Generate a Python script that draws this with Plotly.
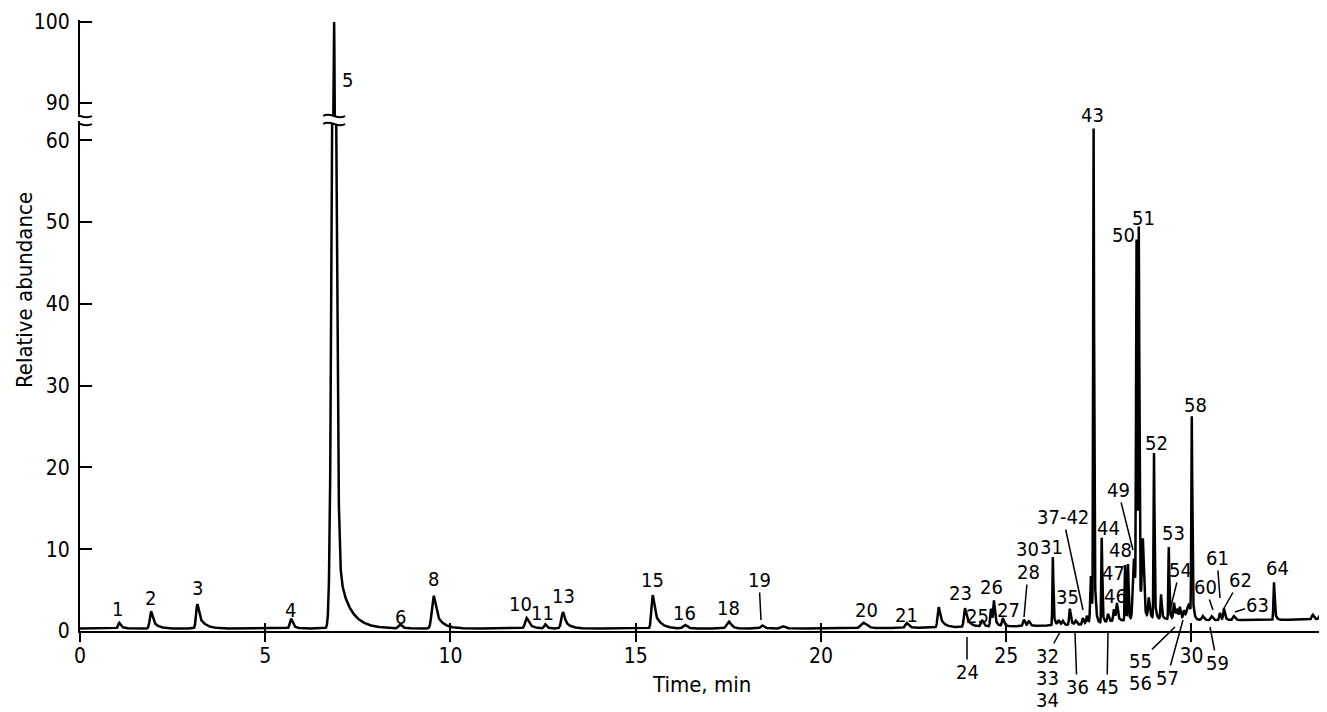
import numpy as np
import plotly.graph_objects as go

# ---------------- data ----------------
# retention time (min), height above baseline (relative abundance),
# peak width (sigma, min), tailing constant (min), tailing fraction
peak_time = [1.06, 1.92, 3.17, 5.70, 6.86, 6.87, 8.64, 9.55, 12.06, 12.56,
             13.04, 15.46, 16.33, 17.52, 18.41, 18.97, 21.16, 22.32, 23.18, 23.89,
             24.35, 24.59, 24.67, 24.91, 25.48, 25.61, 26.26, 26.42, 26.53, 26.72,
             26.88, 27.07, 27.18, 27.29, 27.36, 27.58, 27.75, 27.91, 27.99, 28.21,
             28.29, 28.45, 28.52, 28.58, 28.69, 28.85, 28.99, 29.18, 29.39, 29.53,
             29.61, 29.69, 29.80, 29.93, 30.01, 30.31, 30.55, 30.77, 30.88, 31.15,
             32.23, 33.28, 33.47]
peak_height = [0.7, 2.1, 3.0, 1.2, 90.0, 10.0, 0.5, 4.0, 1.3, 0.5,
               2.0, 4.1, 0.45, 0.85, 0.4, 0.3, 0.7, 0.6, 2.5, 2.3,
               0.8, 2.2, 2.9, 1.0, 0.8, 0.6, 8.4, 0.6, 0.5, 2.0,
               0.5, 0.8, 1.0, 5.8, 60.3, 10.4, 1.0, 1.5, 2.1, 6.8,
               6.8, 7.5, 45.5, 46.0, 9.5, 2.5, 20.3, 3.0, 8.8, 2.0,
               1.1, 1.4, 1.0, 1.8, 24.3, 0.5, 0.5, 0.9, 1.4, 0.5,
               4.6, 0.6, 0.5]
peak_sigma = [0.03, 0.035, 0.035, 0.035, 0.06, 0.04, 0.04, 0.05, 0.045, 0.03,
              0.045, 0.035, 0.05, 0.06, 0.04, 0.05, 0.08, 0.04, 0.03, 0.03,
              0.03, 0.02, 0.02, 0.025, 0.025, 0.025, 0.012, 0.025, 0.025, 0.02,
              0.025, 0.02, 0.02, 0.02, 0.012, 0.012, 0.02, 0.02, 0.02, 0.012,
              0.012, 0.03, 0.014, 0.014, 0.025, 0.02, 0.012, 0.015, 0.012, 0.02,
              0.02, 0.02, 0.02, 0.05, 0.012, 0.03, 0.03, 0.02, 0.02, 0.03,
              0.015, 0.03, 0.03]
peak_tau = [0.10, 0.13, 0.16, 0.10, 0.05, 0.30, 0.10, 0.18, 0.14, 0.08,
            0.15, 0.16, 0.10, 0.12, 0.10, 0.10, 0.15, 0.10, 0.12, 0.12,
            0.08, 0.06, 0.06, 0.06, 0.06, 0.06, 0.04, 0.05, 0.05, 0.05,
            0.05, 0.05, 0.05, 0.04, 0.03, 0.03, 0.05, 0.05, 0.05, 0.03,
            0.03, 0.05, 0.03, 0.03, 0.05, 0.05, 0.03, 0.04, 0.03, 0.05,
            0.05, 0.05, 0.05, 0.08, 0.03, 0.05, 0.05, 0.05, 0.05, 0.06,
            0.04, 0.06, 0.06]
peak_tailfrac = [0.6, 0.65, 0.65, 0.5, 0.3, 1.0, 0.5, 0.65, 0.6, 0.5,
                 0.6, 0.65, 0.5, 0.5, 0.5, 0.5, 0.5, 0.5, 0.65, 0.65,
                 0.5, 0.5, 0.5, 0.5, 0.5, 0.5, 0.3, 0.5, 0.5, 0.5,
                 0.5, 0.5, 0.5, 0.4, 0.3, 0.3, 0.5, 0.5, 0.5, 0.3,
                 0.3, 0.4, 0.3, 0.3, 0.4, 0.5, 0.3, 0.4, 0.3, 0.5,
                 0.5, 0.5, 0.5, 0.5, 0.3, 0.5, 0.5, 0.5, 0.5, 0.5,
                 0.4, 0.5, 0.5]

# baseline drift of the trace
base_time = [0.0, 6.5, 21.0, 23.5, 25.5, 27.0, 28.0, 29.0, 30.5, 33.66]
base_level = [0.3, 0.3, 0.3, 0.45, 0.6, 0.75, 1.2, 1.5, 1.3, 1.4]

x_ticks = [0, 5, 10, 15, 20, 25, 30]
y_ticks_low = [0, 10, 20, 30, 40, 50, 60]
y_ticks_high = [90, 100]

# peak numbers written on the chart
plain_labels = ["1", "2", "3", "4", "5", "6", "8", "10", "11", "13", "15", "16",
                "18", "20", "21", "23", "25", "26", "27", "30", "31", "35", "43",
                "44", "46", "47", "48", "50", "51", "52", "53", "58", "64",
                "33", "34", "56"]
leader_labels = ["19", "24", "28", "37-42", "49", "54", "60", "61", "62", "63",
                 "32", "36", "45", "55", "57", "59"]

# ---------------- layout geometry (screen pixels of the reference) ----------------
PAGE_OFF = 8                      # default body margin of the html page
SCR_W, SCR_H = 1327, 712
PLOT_LEFT, PLOT_TOP, PLOT_BOTTOM = 80, 20, 631
W, H = SCR_W - PAGE_OFF, SCR_H - PAGE_OFF
ML, MT, MR = PLOT_LEFT - PAGE_OFF, PLOT_TOP - PAGE_OFF, 0
MB = H - (PLOT_BOTTOM - PAGE_OFF)
PW, PH = W - ML - MR, H - MT - MB
X_MAX = 33.66
Y_LOW_MAX = 62.35
Y_HIGH = [88.27, 100.25]
LOW_DOM = [0.0, 0.8347]
HIGH_DOM = [0.8412, 1.0]

# text placement (screen pixel centres) for labels
plain_pos = [(117, 609), (150, 598), (197, 588), (290, 610), (347, 80), (400, 617),
             (433, 579), (520, 604), (542, 613), (563, 596), (652, 580), (684, 613),
             (728, 608), (866, 610), (906, 615), (960, 593), (977, 616), (991, 587),
             (1008, 610), (1027, 549), (1051, 547), (1067, 597), (1092, 115),
             (1108, 528), (1115, 596), (1113, 573), (1120, 550), (1123, 235),
             (1143, 218), (1156, 443), (1173, 533), (1195, 405), (1277, 568),
             (1047, 678), (1047, 700), (1140, 683)]
leader_pos = [((759, 580), (761, 620)), ((967, 672), (967, 637)),
              ((1028, 572), (1024, 617)), ((1063, 517), (1083, 610)),
              ((1118, 490), (1133, 550)), ((1180, 570), (1170, 610)),
              ((1205, 587), (1213, 610)), ((1217, 558), (1220, 598)),
              ((1240, 580), (1223, 610)), ((1257, 605), (1235, 612)),
              ((1047, 656), (1060, 632)), ((1077, 687), (1075, 633)),
              ((1107, 687), (1108, 633)), ((1140, 661), (1175, 627)),
              ((1167, 678), (1183, 620)), ((1217, 663), (1210, 627))]

FONT_FAMILY = "DejaVu Sans Condensed, Liberation Sans Narrow, DejaVu Sans, sans-serif"
LABEL_FONT = dict(family=FONT_FAMILY, size=20, color="black")
TICK_FONT = dict(family=FONT_FAMILY, size=21, color="black")
TITLE_FONT = dict(family=FONT_FAMILY, size=22, color="black")


def px2t(px):
    return (px - PLOT_LEFT) / PW * X_MAX


def py2paper(py):
    return (PLOT_BOTTOM - py) / PH


# ---------------- build trace from the peak table ----------------
t = np.linspace(0, X_MAX, 14000)
signal = np.interp(t, base_time, base_level)
for t0, h, s, tau, f in zip(peak_time, peak_height, peak_sigma, peak_tau, peak_tailfrac):
    d = t - t0
    g = np.exp(-0.5 * (d / s) ** 2)
    tail = np.where(d > 0, np.exp(-np.clip(d, 0, None) / tau), g)
    signal += h * ((1 - f) * g + f * tail)

fig = go.Figure()
line_style = dict(color="black", width=2.5)
fig.add_trace(go.Scatter(x=t, y=signal, mode="lines", line=line_style,
                         xaxis="x", yaxis="y", hoverinfo="skip", showlegend=False))
fig.add_trace(go.Scatter(x=t, y=signal, mode="lines", line=line_style,
                         xaxis="x2", yaxis="y2", hoverinfo="skip", showlegend=False))
# carrier for the upward half of the crossing x ticks
fig.add_trace(go.Scatter(x=[0], y=[0], mode="markers", marker=dict(opacity=0),
                         xaxis="x3", yaxis="y", hoverinfo="skip", showlegend=False))

axis_common = dict(showgrid=False, zeroline=False, showline=True, linecolor="black",
                   linewidth=2, tickcolor="black", tickwidth=2,
                   tickfont=TICK_FONT)

fig.update_layout(
    width=W, height=H,
    margin=dict(l=ML, r=MR, t=MT, b=MB),
    paper_bgcolor="white", plot_bgcolor="white",
    showlegend=False,
    xaxis=dict(domain=[0, 1], range=[0, X_MAX], anchor="y", tickmode="array",
               tickvals=x_ticks, ticks="outside", ticklen=9,
               ticklabelstandoff=-4, **axis_common),
    xaxis2=dict(domain=[0, 1], range=[0, X_MAX], anchor="y2", matches="x", visible=False),
    xaxis3=dict(range=[0, X_MAX], overlaying="x", anchor="y", matches="x", side="bottom",
                tickmode="array", tickvals=x_ticks, ticks="inside", ticklen=8,
                tickwidth=2, tickcolor="black", showticklabels=False, showline=False,
                showgrid=False, zeroline=False),
    yaxis=dict(domain=LOW_DOM, range=[0, Y_LOW_MAX], anchor="x", tickmode="array",
               tickvals=y_ticks_low, ticks="inside", ticklen=12,
               ticklabelstandoff=4, **axis_common),
    yaxis2=dict(domain=HIGH_DOM, range=Y_HIGH, anchor="x2", tickmode="array",
                tickvals=y_ticks_high, ticks="inside", ticklen=12,
                ticklabelstandoff=4, **axis_common),
)

annotations = []
for txt, (px, py) in zip(plain_labels, plain_pos):
    annotations.append(dict(text=txt, x=px2t(px), y=py2paper(py), xref="x", yref="paper",
                            showarrow=False, font=LABEL_FONT, borderpad=0,
                            xanchor="center", yanchor="middle"))
for txt, ((px, py), (qx, qy)) in zip(leader_labels, leader_pos):
    annotations.append(dict(text=txt, x=px2t(qx), y=py2paper(qy), xref="x", yref="paper",
                            showarrow=True, arrowhead=0, arrowwidth=1.5, arrowcolor="black",
                            ax=px - qx, ay=py - qy, axref="pixel", ayref="pixel",
                            borderpad=0, font=LABEL_FONT))
annotations.append(dict(text="Relative abundance", x=(24 - PLOT_LEFT) / PW, y=py2paper(290),
                        xref="paper", yref="paper", showarrow=False, textangle=-90,
                        font=TITLE_FONT, xanchor="center", yanchor="middle"))
annotations.append(dict(text="Time, min", x=(701 - PLOT_LEFT) / PW, y=py2paper(684),
                        xref="paper", yref="paper", showarrow=False,
                        font=TITLE_FONT, xanchor="center", yanchor="middle"))
fig.update_layout(annotations=annotations)


# axis-break marks (≈) on the y axis and on peak 5
def break_shapes(cx_px, half_w):
    shapes = []
    top, bot = 116, 124
    amp = 5
    x0, x1 = px2t(cx_px - half_w), px2t(cx_px + half_w)
    xa, xb = px2t(cx_px - half_w / 3), px2t(cx_px + half_w / 3)
    mask = (f"M {x0},{py2paper(top)} C {xa},{py2paper(top - amp)} {xb},{py2paper(top + amp)} {x1},{py2paper(top)} "
            f"L {x1},{py2paper(bot)} C {xb},{py2paper(bot + amp)} {xa},{py2paper(bot - amp)} {x0},{py2paper(bot)} Z")
    shapes.append(dict(type="path", path=mask, xref="x", yref="paper",
                       fillcolor="white", line=dict(width=0), layer="above"))
    for y in (top, bot):
        p = (f"M {x0},{py2paper(y)} C {xa},{py2paper(y - amp)} "
             f"{xb},{py2paper(y + amp)} {x1},{py2paper(y)}")
        shapes.append(dict(type="path", path=p, xref="x", yref="paper",
                           line=dict(color="black", width=2), layer="above"))
    return shapes


fig.update_layout(shapes=break_shapes(PLOT_LEFT, 12) +
                  break_shapes(PLOT_LEFT + peak_time[4] / X_MAX * PW, 11))

fig.write_html("out.html")
